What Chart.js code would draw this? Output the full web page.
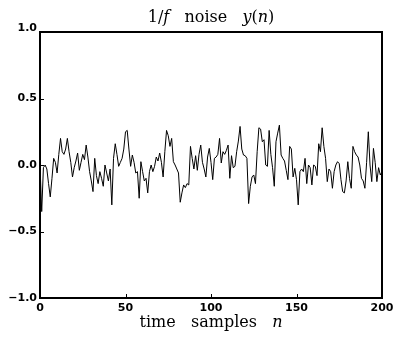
<!DOCTYPE html>
<html>
<head>
<meta charset="utf-8">
<script src="https://cdn.jsdelivr.net/npm/chart.js@4.4.1/dist/chart.umd.min.js"></script>
<style>
  html, body { margin: 0; padding: 0; background: #fff; }
  #wrap { width: 393px; height: 337px; }
</style>
</head>
<body>
<div id="wrap"><canvas id="noise"></canvas></div>
<script>
// y(n), n = 0..200
const noise = [
  0.00, -0.35, -0.02, 0.00, -0.03, -0.14, -0.24, -0.10, 0.05, 0.02,
  -0.06, 0.08, 0.20, 0.10, 0.08, 0.12, 0.20, 0.10, 0.02, -0.09,
  -0.02, 0.03, 0.09, -0.04, 0.02, 0.08, 0.04, 0.15, 0.06, -0.05,
  -0.12, -0.20, 0.05, -0.08, -0.14, -0.05, -0.10, -0.16, 0.00, -0.06,
  -0.12, -0.03, -0.30, 0.05, 0.16, 0.08, -0.01, 0.02, 0.05, 0.12,
  0.25, 0.26, 0.12, -0.01, 0.075, 0.02, -0.06, -0.05, -0.25, 0.025,
  -0.05, -0.12, -0.10, -0.21, -0.05, 0.00, -0.05, -0.01, 0.06, 0.03,
  0.09, 0.02, -0.09, 0.10, 0.26, 0.22, 0.14, 0.20, 0.025, 0.00,
  -0.03, -0.06, -0.28, -0.21, -0.15, -0.17, -0.14, -0.15, 0.14, 0.05,
  -0.03, 0.07, -0.04, 0.08, 0.15, 0.02, -0.03, -0.09, 0.06, 0.125,
  0.02, -0.11, 0.05, 0.06, 0.08, 0.20, 0.015, 0.10, 0.08, 0.11,
  0.15, -0.10, 0.07, -0.02, -0.01, 0.10, 0.18, 0.29, 0.12, 0.075,
  0.07, 0.05, -0.29, -0.16, -0.09, -0.075, -0.14, 0.10, 0.28, 0.27,
  0.175, 0.19, 0.00, -0.01, 0.26, 0.08, -0.02, -0.16, 0.175, 0.24,
  0.30, 0.075, 0.05, 0.03, -0.04, -0.11, 0.14, 0.12, -0.09, -0.025,
  -0.11, -0.30, -0.05, -0.03, -0.05, 0.05, -0.14, 0.00, -0.02, -0.15,
  0.00, -0.01, -0.08, 0.16, 0.10, 0.28, 0.14, 0.05, -0.125, -0.03,
  -0.05, -0.175, -0.05, 0.00, 0.025, 0.01, -0.11, -0.20, -0.21, -0.12,
  0.025, -0.10, -0.175, 0.14, 0.10, 0.075, 0.06, 0.00, -0.10, -0.12,
  -0.175, 0.02, 0.25, 0.00, -0.125, 0.125, 0.02, -0.125, -0.02, -0.075,
  -0.05
];
const samples = noise.map((v, i) => i);
const xTicks = [0, 50, 100, 150, 200];
const yTicks = [-1, -0.5, 0, 0.5, 1];

const titleParts = [['1/', false], ['f', true], ['   noise   ', false], ['y', true], ['(', false], ['n', true], [')', false]];
const xTitleParts = [['time   samples   ', false], ['n', true]];

function drawMixed(ctx, parts, cx, cy, size) {
  const fontFor = (it) => (it ? 'italic ' : '') + size + 'px "DejaVu Serif"';
  let total = 0;
  parts.forEach(([t, it]) => { ctx.font = fontFor(it); total += ctx.measureText(t).width; });
  let x = cx - total / 2;
  ctx.textBaseline = 'middle';
  ctx.textAlign = 'left';
  ctx.fillStyle = '#000';
  parts.forEach(([t, it]) => {
    ctx.font = fontFor(it);
    ctx.fillText(t, x, cy);
    x += ctx.measureText(t).width;
  });
}

const framePlugin = {
  id: 'frame',
  afterDraw(chart) {
    const { ctx, chartArea: a, scales } = chart;
    ctx.save();
    ctx.strokeStyle = '#000';
    ctx.lineWidth = 2;
    ctx.strokeRect(a.left, a.top, a.right - a.left, a.bottom - a.top);
    // short inward ticks, bottom and left only
    ctx.lineWidth = 1;
    ctx.beginPath();
    xTicks.forEach((v) => {
      const px = Math.round(scales.x.getPixelForValue(v)) + 0.5;
      ctx.moveTo(px, a.bottom);
      ctx.lineTo(px, a.bottom - 4);
    });
    yTicks.forEach((v) => {
      const py = Math.round(scales.y.getPixelForValue(v)) + 0.5;
      ctx.moveTo(a.left, py);
      ctx.lineTo(a.left + 4, py);
    });
    ctx.stroke();
    // y tick labels
    ctx.font = 'bold 11px "DejaVu Sans"';
    ctx.textAlign = 'right';
    ctx.textBaseline = 'middle';
    ctx.fillStyle = '#000';
    yTicks.forEach((v) => {
      const py = scales.y.getPixelForValue(v) + (v === 1 ? -4 : 0);
      ctx.fillText(v.toFixed(1).replace('-', '\u2212'), a.left - 3, py);
    });
    const mid = (a.left + a.right) / 2;
    drawMixed(ctx, titleParts, mid, 18, 16);
    drawMixed(ctx, xTitleParts, mid, 323, 16);
    ctx.restore();
  }
};

new Chart(document.getElementById('noise'), {
  type: 'line',
  data: {
    datasets: [
      {
        data: noise.map((v, i) => ({ x: samples[i], y: v })),
        borderColor: '#000',
        borderWidth: 1,
        pointRadius: 0,
        tension: 0,
        fill: false,
      },
    ],
  },
  options: {
    responsive: true,
    maintainAspectRatio: false,
    animation: false,
    layout: { padding: { left: 0, right: 11, top: 32, bottom: 0 } },
    plugins: { legend: { display: false }, tooltip: { enabled: false } },
    scales: {
      x: {
        type: 'linear',
        min: 0,
        max: 200,
        afterBuildTicks: (s) => { s.ticks = xTicks.map((v) => ({ value: v })); },
        afterFit: (s) => { s.height = 39; s.paddingLeft = 0; s.paddingRight = 0; },
        grid: { display: false, drawTicks: false },
        border: { display: false },
        ticks: {
          padding: 4,
          color: '#000',
          maxRotation: 0,
          font: { family: 'DejaVu Sans', weight: 'bold', size: 11 },
        },
      },
      y: {
        min: -1,
        max: 1,
        afterBuildTicks: (s) => { s.ticks = yTicks.map((v) => ({ value: v })); },
        afterFit: (s) => { s.width = 40; s.paddingTop = 0; s.paddingBottom = 0; },
        grid: { display: false, drawTicks: false },
        border: { display: false },
        ticks: { display: false },
      },
    },
  },
  plugins: [framePlugin],
});
</script>
</body>
</html>
